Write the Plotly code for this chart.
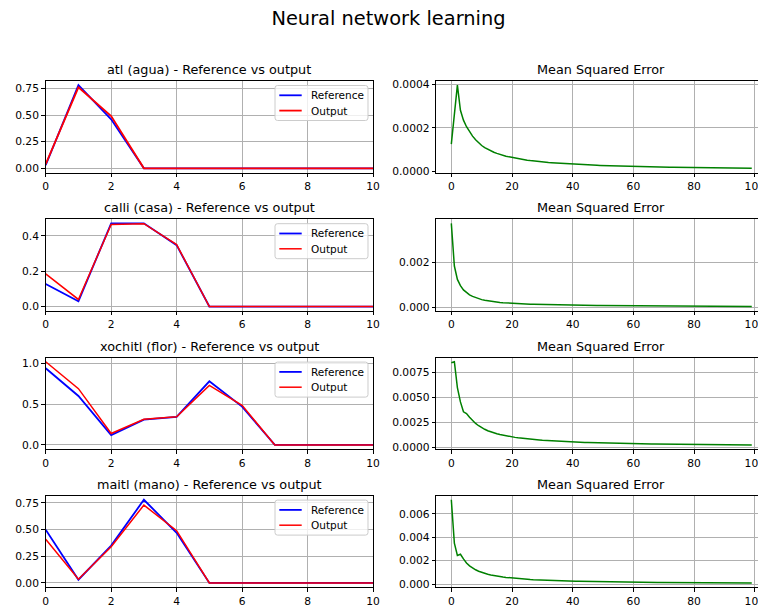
import plotly.graph_objects as go

W, H = 758, 607
FONT = "DejaVu Sans"

# ---------------- data ----------------
steps = list(range(11))
epochs = list(range(100))

words = ["atl (agua)", "calli (casa)", "xochitl (flor)", "maitl (mano)"]
legend_labels = ["Reference", "Output"]

ref_atl = [0.03, 0.78, 0.46, 0.0, 0.0, 0.0, 0.0, 0.0, 0.0, 0.0, 0.0]
out_atl = [0.04, 0.76, 0.49, 0.0, 0.0, 0.0, 0.0, 0.0, 0.0, 0.0, 0.0]

ref_calli = [0.127, 0.03, 0.47, 0.47, 0.347, 0.0, 0.0, 0.0, 0.0, 0.0, 0.0]
out_calli = [0.185, 0.04, 0.464, 0.468, 0.35, 0.0, 0.0, 0.0, 0.0, 0.0, 0.0]

ref_xochitl = [0.94, 0.60, 0.12, 0.31, 0.345, 0.78, 0.47, 0.0, 0.0, 0.0, 0.0]
out_xochitl = [1.02, 0.69, 0.14, 0.315, 0.345, 0.73, 0.485, 0.0, 0.0, 0.0, 0.0]

ref_maitl = [0.50, 0.03, 0.35, 0.78, 0.47, 0.0, 0.0, 0.0, 0.0, 0.0, 0.0]
out_maitl = [0.41, 0.035, 0.34, 0.73, 0.49, 0.0, 0.0, 0.0, 0.0, 0.0, 0.0]

mse_atl = [
    1.25e-4, 2.60e-4, 3.95e-4, 2.80e-4, 2.35e-4, 2.05e-4, 1.80e-4, 1.62e-4, 1.45e-4, 1.31e-4,
    1.19e-4, 1.09e-4, 1.01e-4, 0.94e-4, 0.88e-4, 0.83e-4, 0.78e-4, 0.74e-4, 0.70e-4, 0.67e-4,
    0.64e-4, 0.61e-4, 0.585e-4, 0.56e-4, 0.54e-4, 0.52e-4, 0.50e-4, 0.48e-4, 0.465e-4, 0.45e-4,
    0.435e-4, 0.42e-4, 0.41e-4, 0.40e-4, 0.39e-4, 0.38e-4, 0.37e-4, 0.36e-4, 0.352e-4, 0.344e-4,
    0.336e-4, 0.329e-4, 0.322e-4, 0.315e-4, 0.309e-4, 0.303e-4, 0.297e-4, 0.291e-4, 0.285e-4, 0.280e-4,
    0.275e-4, 0.270e-4, 0.265e-4, 0.261e-4, 0.256e-4, 0.252e-4, 0.248e-4, 0.244e-4, 0.240e-4, 0.236e-4,
    0.232e-4, 0.229e-4, 0.225e-4, 0.222e-4, 0.219e-4, 0.216e-4, 0.213e-4, 0.210e-4, 0.207e-4, 0.204e-4,
    0.201e-4, 0.199e-4, 0.196e-4, 0.194e-4, 0.191e-4, 0.189e-4, 0.187e-4, 0.184e-4, 0.182e-4, 0.180e-4,
    0.178e-4, 0.176e-4, 0.174e-4, 0.172e-4, 0.170e-4, 0.168e-4, 0.166e-4, 0.164e-4, 0.163e-4, 0.161e-4,
    0.159e-4, 0.157e-4, 0.156e-4, 0.154e-4, 0.152e-4, 0.151e-4, 0.149e-4, 0.148e-4, 0.146e-4, 0.145e-4,
]

mse_calli = [
    3.76e-3, 1.85e-3, 1.25e-3, 0.97e-3, 0.78e-3, 0.65e-3, 0.56e-3, 0.49e-3, 0.43e-3, 0.38e-3,
    0.345e-3, 0.315e-3, 0.29e-3, 0.27e-3, 0.25e-3, 0.235e-3, 0.22e-3, 0.208e-3, 0.197e-3, 0.187e-3,
    0.178e-3, 0.170e-3, 0.163e-3, 0.157e-3, 0.151e-3, 0.146e-3, 0.141e-3, 0.137e-3, 0.133e-3, 0.129e-3,
    0.125e-3, 0.122e-3, 0.119e-3, 0.116e-3, 0.113e-3, 0.110e-3, 0.108e-3, 0.105e-3, 0.103e-3, 0.101e-3,
    0.099e-3, 0.097e-3, 0.095e-3, 0.093e-3, 0.091e-3, 0.089e-3, 0.088e-3, 0.086e-3, 0.085e-3, 0.083e-3,
    0.082e-3, 0.080e-3, 0.079e-3, 0.078e-3, 0.077e-3, 0.075e-3, 0.074e-3, 0.073e-3, 0.072e-3, 0.071e-3,
    0.070e-3, 0.069e-3, 0.068e-3, 0.067e-3, 0.066e-3, 0.065e-3, 0.064e-3, 0.063e-3, 0.062e-3, 0.061e-3,
    0.060e-3, 0.059e-3, 0.058e-3, 0.057e-3, 0.057e-3, 0.056e-3, 0.055e-3, 0.054e-3, 0.053e-3, 0.052e-3,
    0.051e-3, 0.050e-3, 0.050e-3, 0.049e-3, 0.048e-3, 0.047e-3, 0.046e-3, 0.046e-3, 0.045e-3, 0.044e-3,
    0.043e-3, 0.043e-3, 0.042e-3, 0.041e-3, 0.040e-3, 0.040e-3, 0.039e-3, 0.038e-3, 0.037e-3, 0.036e-3,
]

mse_xochitl = [
    8.50e-3, 8.60e-3, 6.00e-3, 4.55e-3, 3.55e-3, 3.38e-3, 3.00e-3, 2.65e-3, 2.38e-3, 2.15e-3,
    1.95e-3, 1.79e-3, 1.65e-3, 1.53e-3, 1.43e-3, 1.34e-3, 1.26e-3, 1.19e-3, 1.13e-3, 1.07e-3,
    1.02e-3, 0.975e-3, 0.93e-3, 0.89e-3, 0.855e-3, 0.82e-3, 0.79e-3, 0.76e-3, 0.735e-3, 0.71e-3,
    0.685e-3, 0.665e-3, 0.645e-3, 0.625e-3, 0.605e-3, 0.58e-3, 0.565e-3, 0.55e-3, 0.535e-3, 0.52e-3,
    0.505e-3, 0.495e-3, 0.485e-3, 0.475e-3, 0.465e-3, 0.455e-3, 0.445e-3, 0.436e-3, 0.428e-3, 0.42e-3,
    0.412e-3, 0.404e-3, 0.397e-3, 0.39e-3, 0.383e-3, 0.376e-3, 0.37e-3, 0.364e-3, 0.358e-3, 0.352e-3,
    0.346e-3, 0.341e-3, 0.335e-3, 0.33e-3, 0.325e-3, 0.32e-3, 0.315e-3, 0.311e-3, 0.306e-3, 0.302e-3,
    0.298e-3, 0.294e-3, 0.29e-3, 0.286e-3, 0.282e-3, 0.279e-3, 0.275e-3, 0.272e-3, 0.268e-3, 0.265e-3,
    0.262e-3, 0.259e-3, 0.256e-3, 0.253e-3, 0.25e-3, 0.247e-3, 0.244e-3, 0.241e-3, 0.239e-3, 0.236e-3,
    0.234e-3, 0.231e-3, 0.229e-3, 0.226e-3, 0.224e-3, 0.222e-3, 0.219e-3, 0.217e-3, 0.215e-3, 0.213e-3,
]

mse_maitl = [
    7.20e-3, 3.50e-3, 2.45e-3, 2.55e-3, 2.15e-3, 1.80e-3, 1.56e-3, 1.37e-3, 1.22e-3, 1.10e-3,
    1.00e-3, 0.915e-3, 0.84e-3, 0.78e-3, 0.725e-3, 0.68e-3, 0.64e-3, 0.60e-3, 0.57e-3, 0.54e-3,
    0.51e-3, 0.485e-3, 0.463e-3, 0.443e-3, 0.424e-3, 0.406e-3, 0.39e-3, 0.375e-3, 0.361e-3, 0.348e-3,
    0.336e-3, 0.325e-3, 0.314e-3, 0.304e-3, 0.295e-3, 0.286e-3, 0.278e-3, 0.27e-3, 0.263e-3, 0.256e-3,
    0.249e-3, 0.243e-3, 0.237e-3, 0.231e-3, 0.226e-3, 0.221e-3, 0.216e-3, 0.211e-3, 0.207e-3, 0.203e-3,
    0.199e-3, 0.195e-3, 0.191e-3, 0.187e-3, 0.184e-3, 0.181e-3, 0.177e-3, 0.174e-3, 0.171e-3, 0.168e-3,
    0.165e-3, 0.162e-3, 0.16e-3, 0.157e-3, 0.155e-3, 0.152e-3, 0.15e-3, 0.148e-3, 0.145e-3, 0.143e-3,
    0.141e-3, 0.139e-3, 0.137e-3, 0.135e-3, 0.133e-3, 0.131e-3, 0.13e-3, 0.128e-3, 0.126e-3, 0.124e-3,
    0.123e-3, 0.121e-3, 0.12e-3, 0.118e-3, 0.117e-3, 0.115e-3, 0.114e-3, 0.113e-3, 0.111e-3, 0.11e-3,
    0.109e-3, 0.107e-3, 0.106e-3, 0.105e-3, 0.104e-3, 0.103e-3, 0.101e-3, 0.10e-3, 0.099e-3, 0.098e-3,
]

refs = [ref_atl, ref_calli, ref_xochitl, ref_maitl]
outs = [out_atl, out_calli, out_xochitl, out_maitl]
mses = [mse_atl, mse_calli, mse_xochitl, mse_maitl]

left_dtick = [0.25, 0.2, 0.5, 0.25]
left_fmt = [".2f", ".1f", ".1f", ".2f"]
right_dtick = [0.0002, 0.002, 0.0025, 0.002]
right_fmt = [".4f", ".3f", ".4f", ".3f"]

# ---------------- layout geometry (pixels) ----------------
row_top = [81.0, 219.2, 357.6, 495.6]
row_h = 91.5
left_x = (45.7, 373.0)
right_x = (436.3, 758.0)
right_full_end = 766.0  # the right axes extend past the picture edge

TICK = 10.7
TITLE = 12.8
LEG = 10.5

BLUE = "#0000ff"
RED = "#ff0000"
GREEN = "#008000"


def px_x(p):
    return p / W


def px_y(p):
    return 1 - p / H


def autorange(vals):
    lo, hi = min(vals), max(vals)
    m = 0.05 * (hi - lo)
    return [lo - m, hi + m]


def rounded_rect(x0, y0, x1, y1, r):
    X = lambda v: f"{px_x(v):.6f}"
    Y = lambda v: f"{px_y(v):.6f}"
    return (f"M{X(x0 + r)},{Y(y0)} L{X(x1 - r)},{Y(y0)} "
            f"Q{X(x1)},{Y(y0)} {X(x1)},{Y(y0 + r)} L{X(x1)},{Y(y1 - r)} "
            f"Q{X(x1)},{Y(y1)} {X(x1 - r)},{Y(y1)} L{X(x0 + r)},{Y(y1)} "
            f"Q{X(x0)},{Y(y1)} {X(x0)},{Y(y1 - r)} L{X(x0)},{Y(y0 + r)} "
            f"Q{X(x0)},{Y(y0)} {X(x0 + r)},{Y(y0)} Z")


fig = go.Figure()
layout = dict(
    width=W, height=H, autosize=False,
    margin=dict(l=0, r=0, t=0, b=0, pad=0, autoexpand=False),
    paper_bgcolor="white", plot_bgcolor="white",
    font=dict(family=FONT, size=TICK, color="black"),
    showlegend=False,
    title=dict(text="Neural network learning", x=px_x(388.5), xanchor="center",
               xref="paper", y=px_y(18), yanchor="middle",
               font=dict(family=FONT, size=19.4, color="black")),
)

axis_common = dict(
    showline=True, linecolor="black", linewidth=0.8,
    ticks="outside", ticklen=3.7, tickwidth=0.8, tickcolor="black",
    showgrid=True, gridcolor="#b0b0b0", gridwidth=0.8,
    zeroline=False, automargin=False, ticklabeloverflow="allow",
    tickfont=dict(family=FONT, size=TICK, color="black"),
)

annotations = []
shapes = []
for i in range(4):
    top = row_top[i]
    bot = top + row_h
    ydom = [px_y(bot), px_y(top)]
    la = 2 * i + 1
    ra = 2 * i + 2
    ref_w = 1.8
    out_w = 1.8 if i == 0 else 1.5

    fig.add_trace(go.Scatter(
        x=steps, y=refs[i], mode="lines", name=legend_labels[0],
        line=dict(color=BLUE, width=ref_w),
        xaxis=f"x{la}", yaxis=f"y{la}"))
    fig.add_trace(go.Scatter(
        x=steps, y=outs[i], mode="lines", name=legend_labels[1],
        line=dict(color=RED, width=out_w),
        xaxis=f"x{la}", yaxis=f"y{la}"))
    fig.add_trace(go.Scatter(
        x=epochs, y=mses[i], mode="lines", name="MSE",
        line=dict(color=GREEN, width=1.5),
        xaxis=f"x{ra}", yaxis=f"y{ra}"))

    layout[f"xaxis{la}"] = dict(axis_common, domain=[px_x(left_x[0]), px_x(left_x[1])],
                                anchor=f"y{la}", range=[0, 10], dtick=2, tick0=0,
                                mirror=True)
    layout[f"yaxis{la}"] = dict(axis_common, domain=ydom, anchor=f"x{la}",
                                range=autorange(refs[i] + outs[i]),
                                dtick=left_dtick[i], tick0=0,
                                tickformat=left_fmt[i], mirror=True)
    layout[f"xaxis{ra}"] = dict(axis_common, domain=[px_x(right_x[0]), px_x(right_x[1])],
                                anchor=f"y{ra}", range=[-4.95, 101.05], dtick=20, tick0=0,
                                mirror=True)
    layout[f"yaxis{ra}"] = dict(axis_common, domain=ydom, anchor=f"x{ra}",
                                range=autorange(mses[i]),
                                dtick=right_dtick[i], tick0=0,
                                tickformat=right_fmt[i], mirror=False)

    # legend box (matplotlib style, upper right)
    shapes.append(dict(type="path", xref="paper", yref="paper", layer="above",
                       path=rounded_rect(275.0, top + 4.5, 368.0, top + 39.5, 2.5),
                       fillcolor="rgba(255,255,255,0.8)",
                       line=dict(color="#cccccc", width=1)))
    for k, (lab, col, lw) in enumerate([(legend_labels[0], BLUE, ref_w),
                                        (legend_labels[1], RED, out_w)]):
        yy = top + 14.3 + k * 15.3
        shapes.append(dict(type="line", xref="paper", yref="paper", layer="above",
                           x0=px_x(279.3), x1=px_x(301.7), y0=px_y(yy), y1=px_y(yy),
                           line=dict(color=col, width=lw)))
        annotations.append(dict(
            text=lab, xref="paper", yref="paper", x=px_x(308.5), y=px_y(yy),
            xanchor="left", yanchor="middle", showarrow=False,
            font=dict(family=FONT, size=LEG, color="black")))

    annotations.append(dict(
        text=f"{words[i]} - Reference vs output", xref="paper", yref="paper",
        x=px_x((left_x[0] + left_x[1]) / 2), y=px_y(top), xanchor="center",
        yanchor="bottom", yshift=2, showarrow=False,
        font=dict(family=FONT, size=TITLE, color="black")))
    annotations.append(dict(
        text="Mean Squared Error", xref="paper", yref="paper",
        x=px_x((right_x[0] + right_full_end) / 2), y=px_y(top), xanchor="center",
        yanchor="bottom", yshift=2, showarrow=False,
        font=dict(family=FONT, size=TITLE, color="black")))

layout["annotations"] = annotations
layout["shapes"] = shapes
fig.update_layout(**layout)

fig.write_html(
    "out.html",
    config={"displayModeBar": False, "responsive": False},
    post_script=(
        "document.documentElement.style.margin='0px';"
        "document.documentElement.style.overflow='hidden';"
        "document.body.style.margin='0px';"
        "document.body.style.overflow='hidden';"
    ),
)
